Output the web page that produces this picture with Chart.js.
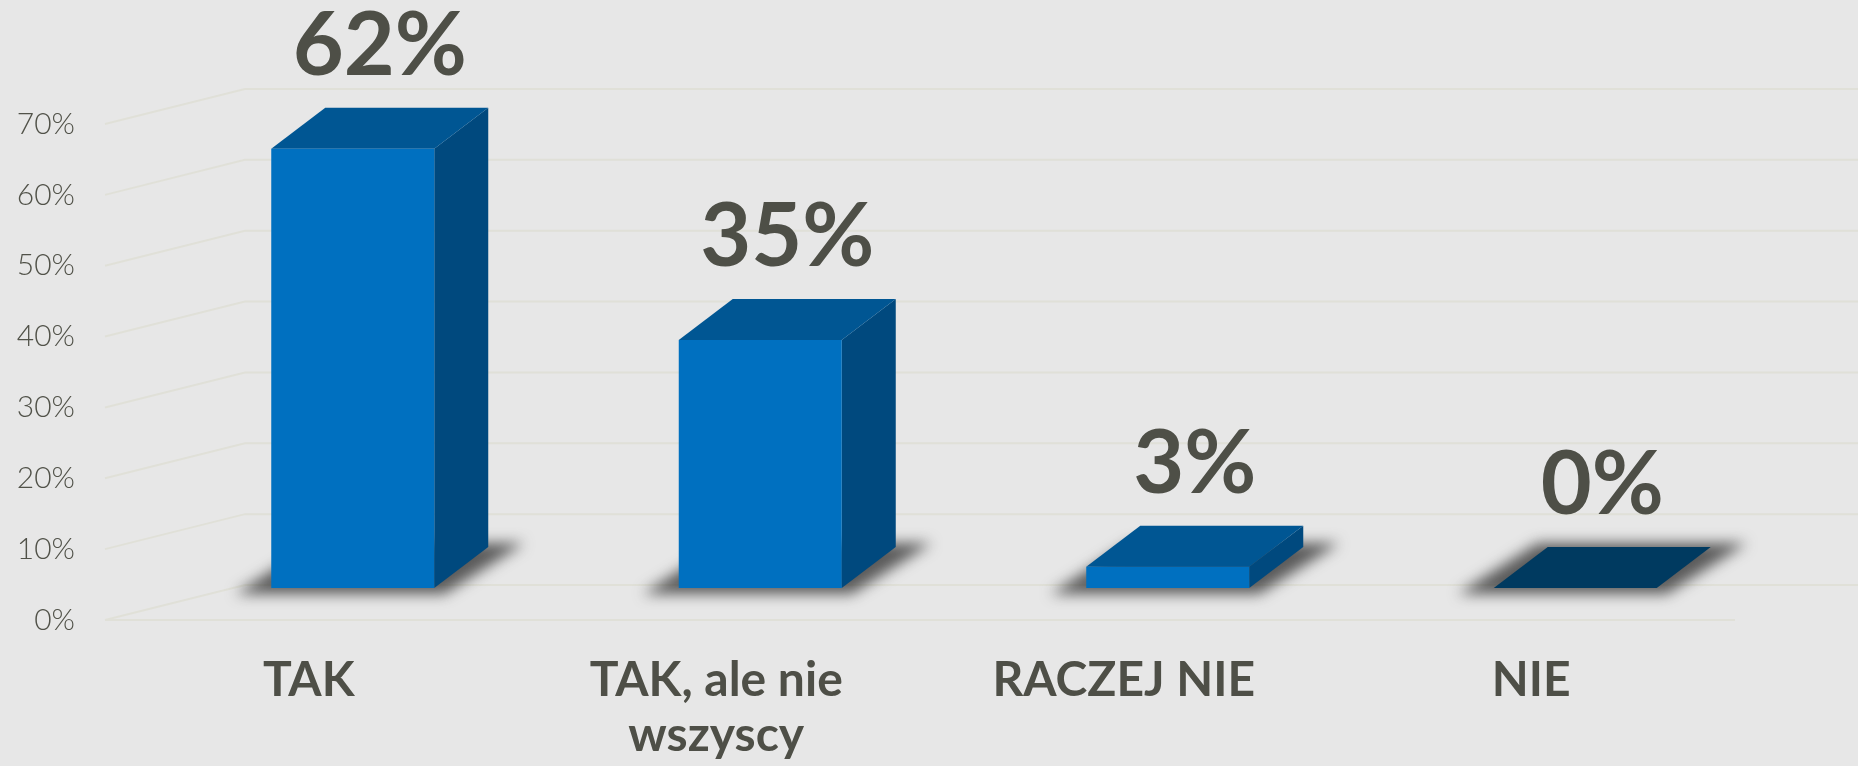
<!DOCTYPE html>
<html>
<head>
<meta charset="utf-8">
<title>Ankieta</title>
<script src="https://cdn.jsdelivr.net/npm/chart.js@4.4.1/dist/chart.umd.min.js"></script>
<style>
  html, body { margin: 0; padding: 0; background: #e7e7e7; }
  #wrap { width: 1858px; height: 766px; }
</style>
</head>
<body>
<div id="wrap"><canvas id="surveyChart" width="1858" height="766"></canvas></div>
<script>
/* survey answers — 3D-look column chart */
const categories = ['TAK', ['TAK, ale nie', 'wszyscy'], 'RACZEJ NIE', 'NIE'];
const shares = [62, 35, 3, 0];
const yTicks = [0, 10, 20, 30, 40, 50, 60, 70];

const TEXT = '#4e4f47';
const FRONT = '#0070c0';
const SIDE = '#00497e';
const TOP = '#005693';
const TOP_FLAT = '#003a60';

// projection offsets for the fake 3D
const DEPTH = { dx: 54, dy: -41 };
const SHIFT = { x: 44, y: -32 };
const FLOOR = { dx: 140, dy: -35 };

const box3d = {
    id: 'box3d',

    beforeDraw(chart) {
        const { ctx, width, height } = chart;
        ctx.save();
        ctx.fillStyle = '#e7e7e7';
        ctx.fillRect(0, 0, width, height);
        ctx.restore();
    },

    beforeDatasetsDraw(chart) {
        const { ctx, chartArea: a, scales: { y } } = chart;

        // back wall + floor lines (very faint)
        ctx.save();
        ctx.strokeStyle = '#e0e0d8';
        ctx.lineWidth = 2;
        yTicks.forEach((v) => {
            const py = y.getPixelForValue(v);
            ctx.beginPath();
            ctx.moveTo(a.left, py);
            ctx.lineTo(a.left + FLOOR.dx, py + FLOOR.dy);
            ctx.lineTo(a.right + FLOOR.dx, py + FLOOR.dy);
            ctx.stroke();
        });
        const p0 = y.getPixelForValue(0);
        ctx.beginPath();
        ctx.moveTo(a.left, p0);
        ctx.lineTo(a.right, p0);
        ctx.stroke();
        ctx.restore();

        // everything bar-related sits a bit deeper in the scene
        ctx.save();
        ctx.translate(SHIFT.x, SHIFT.y);

        const meta = chart.getDatasetMeta(0);
        meta.data.forEach((bar) => {
            const { x, y: top, base, width } = bar.getProps(['x', 'y', 'base', 'width'], true);
            const x0 = x - width / 2;
            const x1 = x + width / 2;
            const { dx, dy } = DEPTH;

            // soft floor shadow
            ctx.save();
            ctx.filter = 'blur(7px)';
            ctx.fillStyle = 'rgba(55,55,55,0.8)';
            ctx.beginPath();
            ctx.moveTo(x0 - 36, base + 6);
            ctx.lineTo(x1 + 10, base + 6);
            ctx.lineTo(x1 + dx + 36, base + dy - 4);
            ctx.lineTo(x0 + dx - 10, base + dy - 4);
            ctx.closePath();
            ctx.fill();
            ctx.restore();

            const flat = Math.abs(base - top) < 1;

            if (!flat) {
                ctx.fillStyle = SIDE;
                ctx.beginPath();
                ctx.moveTo(x1, top);
                ctx.lineTo(x1 + dx, top + dy);
                ctx.lineTo(x1 + dx, base + dy);
                ctx.lineTo(x1, base);
                ctx.closePath();
                ctx.fill();
            }

            ctx.fillStyle = flat ? TOP_FLAT : TOP;
            ctx.beginPath();
            ctx.moveTo(x0, top);
            ctx.lineTo(x0 + dx, top + dy);
            ctx.lineTo(x1 + dx, top + dy);
            ctx.lineTo(x1, top);
            ctx.closePath();
            ctx.fill();
        });
    },

    afterDatasetsDraw(chart) {
        const { ctx } = chart;
        ctx.restore();

        ctx.save();
        ctx.font = 'bold 88px Lato, "Open Sans", sans-serif';
        ctx.fillStyle = TEXT;
        ctx.textAlign = 'center';
        ctx.textBaseline = 'alphabetic';
        const meta = chart.getDatasetMeta(0);
        meta.data.forEach((bar, i) => {
            const { x, y: top } = bar.getProps(['x', 'y'], true);
            ctx.fillText(`${shares[i]}%`, x + SHIFT.x + DEPTH.dx / 2, top + SHIFT.y - 74);
        });
        ctx.restore();
    },
};

new Chart(document.getElementById('surveyChart'), {
    type: 'bar',
    data: {
        labels: categories,
        datasets: [
            {
                data: shares,
                backgroundColor: FRONT,
                borderWidth: 0,
                barPercentage: 1,
                categoryPercentage: 0.4,
                clip: false,
            },
        ],
    },
    options: {
        responsive: false,
        animation: false,
        devicePixelRatio: 1,
        layout: { padding: { top: 124, right: 123, bottom: 0, left: 0 } },
        plugins: {
            legend: { display: false },
            tooltip: { enabled: false },
        },
        scales: {
            x: {
                grid: { display: false, drawTicks: false },
                border: { display: false },
                ticks: {
                    color: TEXT,
                    padding: 33,
                    maxRotation: 0,
                    autoSkip: false,
                    font: { family: 'Lato', size: 48, weight: 'bold', lineHeight: 1.15 },
                },
                afterFit: (s) => { s.height = 146; },
            },
            y: {
                min: 0,
                max: 70,
                grid: { display: false, drawTicks: false },
                border: { display: false },
                ticks: {
                    stepSize: 10,
                    color: '#515249',
                    padding: 30,
                    font: { family: 'Lato', size: 30, weight: '300' },
                    callback: (v) => `${v}%`,
                },
                afterFit: (s) => { s.width = 105; },
            },
        },
    },
    plugins: [box3d],
});
</script>
</body>
</html>
